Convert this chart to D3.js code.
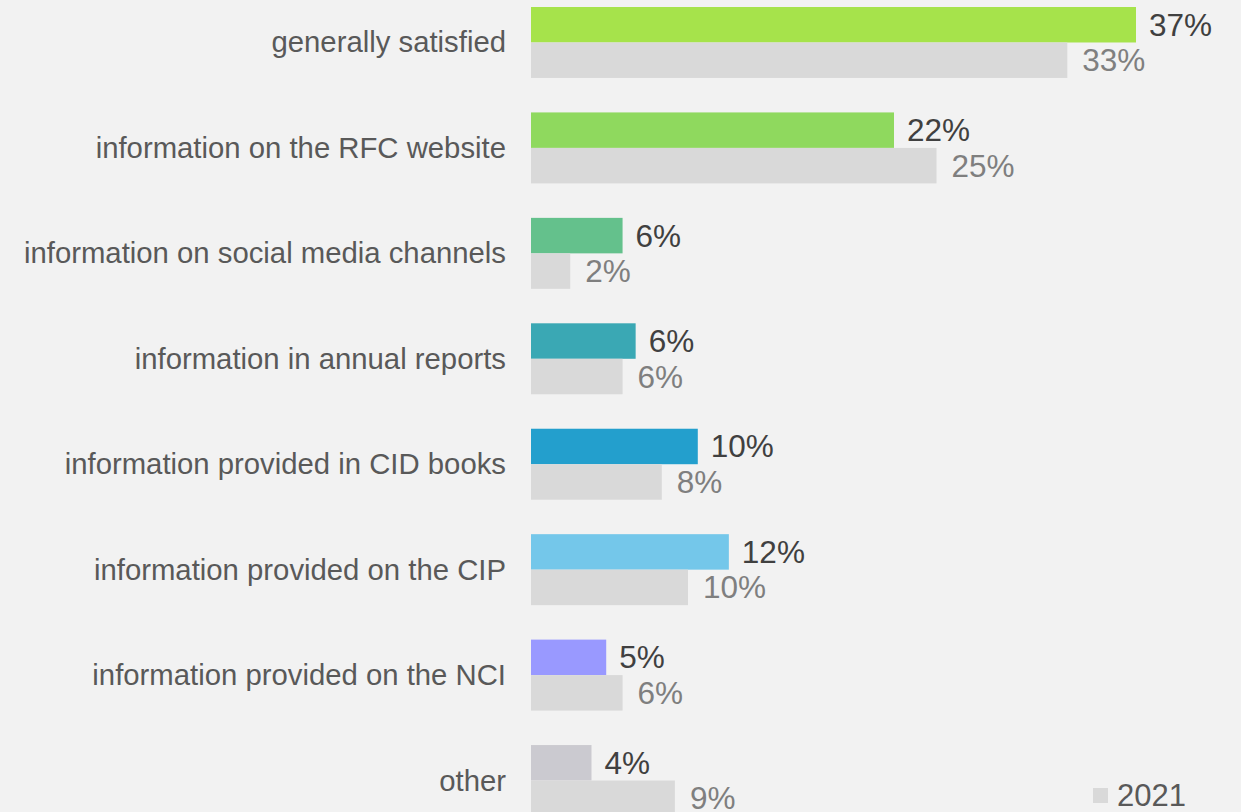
<!DOCTYPE html>
<html>
<head>
<meta charset="utf-8">
<script src="https://cdn.jsdelivr.net/npm/d3@7"></script>
<style>
  body { margin: 0; background: #f2f2f2; overflow: hidden; }
  svg { display: block; font-family: "Liberation Sans", Arial, sans-serif; }
</style>
</head>
<body>
<div id="chart"></div>
<script>
const categories = [
  "generally satisfied",
  "information on the RFC website",
  "information on social media channels",
  "information in annual reports",
  "information provided in CID books",
  "information provided on the CIP",
  "information provided on the NCI",
  "other"
];
// current year (coloured bars) and 2021 (grey bars), share of answers
const current = [0.370, 0.222, 0.056, 0.064, 0.102, 0.121, 0.046, 0.037];
const prev2021 = [0.328, 0.248, 0.024, 0.056, 0.080, 0.096, 0.056, 0.088];
const barColors = ["#a6e34b", "#8fd95e", "#64c18c", "#3aa8b4", "#239fcd", "#74c7ea", "#9999ff", "#cbcad0"];
const legendLabel = "2021";

const width = 1241, height = 812;
const x0 = 531;

const svg = d3.select("#chart")
  .append("svg")
    .attr("width", width)
    .attr("height", height);

svg.append("rect")
  .attr("width", width)
  .attr("height", height)
  .attr("fill", "#f2f2f2");

const x = d3.scaleLinear()
  .domain([0, 0.37])
  .range([x0, 1136]);

const y = d3.scaleBand()
  .domain(categories)
  .range([7, 816])
  .paddingInner(0.327)
  .paddingOuter(0);

const inner = d3.scaleBand()
  .domain(["cur", "prev"])
  .range([0, y.bandwidth()]);

const fmt = d3.format(".0%");

const rows = categories.map((c, i) => ({ cat: c, cur: current[i], prev: prev2021[i], color: barColors[i] }));

const g = svg.selectAll("g.row")
  .data(rows)
  .enter()
  .append("g")
    .attr("class", "row")
    .attr("transform", d => "translate(0," + y(d.cat) + ")");

// category labels
g.append("text")
  .attr("x", 506)
  .attr("y", y.bandwidth() / 2 + 10)
  .attr("text-anchor", "end")
  .attr("font-size", 29.3)
  .attr("fill", "#595959")
  .text(d => d.cat);

// current year bars
g.append("rect")
  .attr("x", x0)
  .attr("y", inner("cur"))
  .attr("width", d => x(d.cur) - x0)
  .attr("height", inner.bandwidth())
  .attr("fill", d => d.color);

// 2021 bars
g.append("rect")
  .attr("x", x0)
  .attr("y", inner("prev"))
  .attr("width", d => x(d.prev) - x0)
  .attr("height", inner.bandwidth())
  .attr("fill", "#d9d9d9");

g.append("text")
  .attr("x", d => x(d.cur) + 13)
  .attr("y", inner("cur") + inner.bandwidth() / 2 + 11)
  .attr("font-size", 31.5)
  .attr("fill", "#404040")
  .text(d => fmt(d.cur));

g.append("text")
  .attr("x", d => x(d.prev) + 15)
  .attr("y", inner("prev") + inner.bandwidth() / 2 + 11)
  .attr("font-size", 31.5)
  .attr("fill", "#7f7f7f")
  .text(d => fmt(d.prev));

// legend
const legend = svg.append("g")
  .attr("transform", "translate(1093,788)");
legend.append("rect")
  .attr("width", 15)
  .attr("height", 15)
  .attr("fill", "#d9d9d9");
legend.append("text")
  .attr("x", 24)
  .attr("y", 18)
  .attr("font-size", 31)
  .attr("fill", "#595959")
  .text(legendLabel);
</script>
</body>
</html>
